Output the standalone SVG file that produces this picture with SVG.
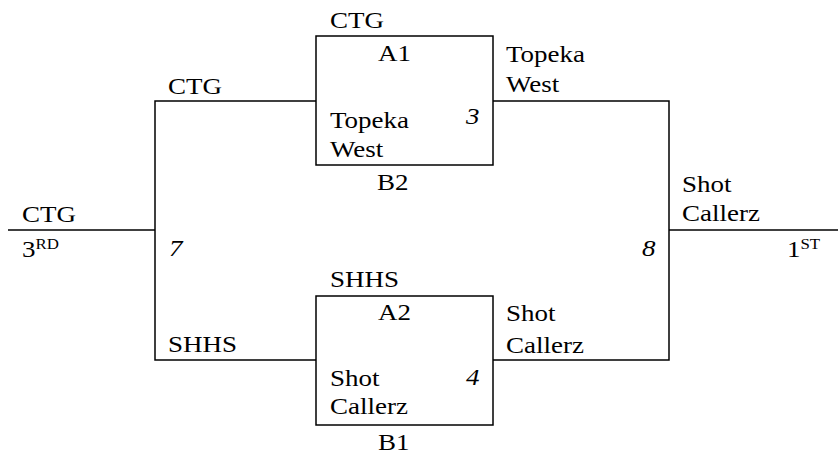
<svg xmlns="http://www.w3.org/2000/svg" width="838" height="458" viewBox="0 0 838 458" font-family="Liberation Serif, Times New Roman, DejaVu Serif, serif" font-size="24">
<style>
text{fill:#000}
.i{font-style:italic}
.sup{font-size:15px}
.ln{fill:none;stroke:#000;stroke-width:1.5}
</style>
<rect width="838" height="458" fill="#fff"/>
<g id="connectors">
<polyline class="ln" points="316,101 155,101 155,360 316,360"/>
<line class="ln" x1="8" y1="230" x2="155" y2="230"/>
<polyline class="ln" points="493,101 669,101 669,360 493,360"/>
<line class="ln" x1="669" y1="230" x2="838" y2="230"/>
</g>
<g id="match1">
<rect class="ln" x="316" y="36" width="177" height="129"/>
<text transform="translate(330 28) scale(1.125 1)">CTG</text>
<text transform="translate(378 61) scale(1.125 1)">A1</text>
<text transform="translate(330 128) scale(1.125 1)">Topeka</text>
<text transform="translate(330 157) scale(1.125 1)">West</text>
<text class="i" transform="translate(466 124) scale(1.125 1)">3</text>
<text transform="translate(377 190) scale(1.125 1)">B2</text>
</g>
<g id="match2">
<rect class="ln" x="316" y="296" width="177" height="129"/>
<text transform="translate(330 287) scale(1.125 1)">SHHS</text>
<text transform="translate(378 320) scale(1.125 1)">A2</text>
<text transform="translate(330 386) scale(1.125 1)">Shot</text>
<text transform="translate(330 414) scale(1.125 1)">Callerz</text>
<text class="i" transform="translate(466 385) scale(1.125 1)">4</text>
<text transform="translate(378 450) scale(1.125 1)">B1</text>
</g>
<g id="winner1">
<text transform="translate(506 62) scale(1.125 1)">Topeka</text>
<text transform="translate(506 92) scale(1.125 1)">West</text>
</g>
<g id="winner2">
<text transform="translate(506 321) scale(1.125 1)">Shot</text>
<text transform="translate(506 353) scale(1.125 1)">Callerz</text>
</g>
<g id="match7">
<text transform="translate(168 94) scale(1.125 1)">CTG</text>
<text transform="translate(168 352) scale(1.125 1)">SHHS</text>
<text class="i" transform="translate(169 256) scale(1.125 1)">7</text>
</g>
<g id="third">
<text transform="translate(22 222) scale(1.125 1)">CTG</text>
<text transform="translate(22 257) scale(1.125 1)">3<tspan class="sup" dy="-8">RD</tspan></text>
</g>
<g id="match8">
<text transform="translate(682 192) scale(1.125 1)">Shot</text>
<text transform="translate(682 221) scale(1.125 1)">Callerz</text>
<text class="i" transform="translate(642 256) scale(1.125 1)">8</text>
</g>
<g id="first">
<text transform="translate(787 257) scale(1.125 1)">1<tspan class="sup" dy="-8">ST</tspan></text>
</g>
</svg>
